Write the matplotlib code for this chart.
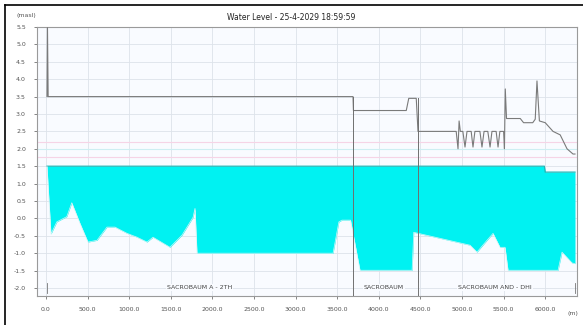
import matplotlib
matplotlib.use("Agg")
import matplotlib.pyplot as plt
from matplotlib.lines import Line2D
import numpy as np

# chainage (m) and levels (masl)
ground_x = [12, 60, 130, 250, 310, 410, 505, 613, 733, 829, 974, 1094, 1214, 1286,
            1490, 1635, 1767, 1791, 1815, 3450, 3520, 3558, 3660, 3774, 4400, 4420,
            5096, 5180, 5300, 5373, 5457, 5517, 5553, 6154, 6202, 6322, 6358]
ground_z = [1.5, -0.45, -0.1, 0.05, 0.45, -0.15, -0.68, -0.63, -0.25, -0.25, -0.43,
            -0.54, -0.68, -0.54, -0.83, -0.48, 0.03, 0.29, -1.0, -1.0, -0.1, -0.05,
            -0.05, -1.49, -1.49, -0.4, -0.77, -0.97, -0.63, -0.43, -0.83, -0.83,
            -1.49, -1.49, -0.97, -1.28, -1.3]

water_x = [12, 5990, 6000, 6358]
water_z = [1.5, 1.5, 1.33, 1.33]

top_x = [12, 18, 26, 3690, 3695, 3740, 4330, 4360, 4450, 4471, 4930, 4952, 4965,
         4980, 5010, 5036, 5060, 5110, 5132, 5155, 5215, 5240, 5265, 5310, 5337,
         5360, 5410, 5433, 5455, 5500, 5510, 5520, 5535, 5600, 5700, 5740, 5850,
         5880, 5901, 5930, 6000, 6094, 6180, 6262, 6334, 6358]
top_z = [3.5, 5.48, 3.5, 3.5, 3.1, 3.1, 3.1, 3.45, 3.45, 2.5, 2.5, 2.0, 2.8,
         2.5, 2.5, 2.05, 2.5, 2.5, 2.05, 2.5, 2.5, 2.05, 2.5, 2.5, 2.05,
         2.5, 2.5, 2.05, 2.5, 2.5, 2.0, 3.72, 2.87, 2.87, 2.87, 2.75, 2.75,
         2.85, 3.95, 2.8, 2.75, 2.5, 2.4, 2.0, 1.85, 1.85]

dividers = [3690, 4471]
divider_top = [3.5, 3.45]
section_edges = [12, 3690, 4471, 6358]
section_names = ["SACROBAUM A - 2TH", "SACROBAUM", "SACROBAUM AND - DHI"]
section_mid = [1850, 4062, 5397]

warn_levels = [2.2, 1.75]
y_ticks = [5.5, 5.0, 4.5, 4.0, 3.5, 3.0, 2.5, 2.0, 1.5, 1.0, 0.5, 0.0, -0.5, -1.0, -1.5, -2.0]
x_ticks = list(range(0, 6001, 500))

fig = plt.figure(figsize=(5.83, 3.25), dpi=100)
ax = fig.add_axes([37 / 583, 1 - 296 / 325, 540 / 583, 269 / 325])
ax.set_facecolor("#f9fbff")

ax.set_xlim(-108, 6382)
ax.set_ylim(-2.23, 5.5)
ax.set_xticks(x_ticks)
ax.set_xticklabels([f"{t:.1f}" for t in x_ticks])
ax.set_yticks(y_ticks)
ax.set_yticklabels([f"{t:.1f}" for t in y_ticks])
ax.tick_params(labelsize=4.5, colors="#555555", length=2, width=0.5, pad=6)
ax.grid(True, color="#dde3ea", lw=0.6)
ax.set_axisbelow(True)
for s in ax.spines.values():
    s.set_color("#9a9a9a")
    s.set_linewidth(0.8)

# alarm levels
for lv in warn_levels:
    ax.axhline(lv, color="#f6d4e6", lw=0.8, zorder=1)
ax.axhline(2.0, color="#cdeef2", lw=0.8, zorder=1)

# water body between water surface and bed, on a shared chainage grid
xs = np.union1d(ground_x, water_x)
bed = np.interp(xs, ground_x, ground_z)
surf = np.interp(xs, water_x, water_z)
ax.fill_between(xs, bed, surf, where=surf >= bed, color="#00f2f2", lw=0, zorder=2)
ax.plot(water_x, water_z, color="#20b8b8", lw=0.9, zorder=3)
ax.plot(ground_x, ground_z, color="#d8f4f4", lw=0.5, zorder=3)

# bank / structure level
ax.plot(top_x, top_z, color="#7a7a7a", lw=0.8, zorder=4)
for dx, dz in zip(dividers, divider_top):
    ax.plot([dx, dx], [-2.23, dz], color="#6f6f6f", lw=0.7, zorder=4)

# section labels along the bottom
for e in section_edges:
    ax.plot([e, e], [-2.15, -1.85], color="#777777", lw=0.6, zorder=5)
for name, xm in zip(section_names, section_mid):
    ax.text(xm, -1.98, name, fontsize=4.5, color="#444444", ha="center", va="center",
            zorder=6, bbox=dict(facecolor="#f9fbff", edgecolor="none", pad=0.6))

fig.text(291 / 583, 1 - 18 / 325, "Water Level - 25-4-2029 18:59:59",
         fontsize=5.5, ha="center", va="center", color="#222222")
fig.text(26 / 583, 1 - 16 / 325, "(masl)", fontsize=4.5, ha="center", va="center", color="#555555")
fig.text(573 / 583, 1 - 313 / 325, "(m)", fontsize=4.5, ha="center", va="center", color="#555555")

# outer frame
fig.add_artist(Line2D([5 / 583, 5 / 583], [0, 1 - 5 / 325], color="black", lw=1.2))
fig.add_artist(Line2D([5 / 583, 1], [1 - 5 / 325, 1 - 5 / 325], color="black", lw=1.2))

fig.savefig("out.png", dpi=100)
